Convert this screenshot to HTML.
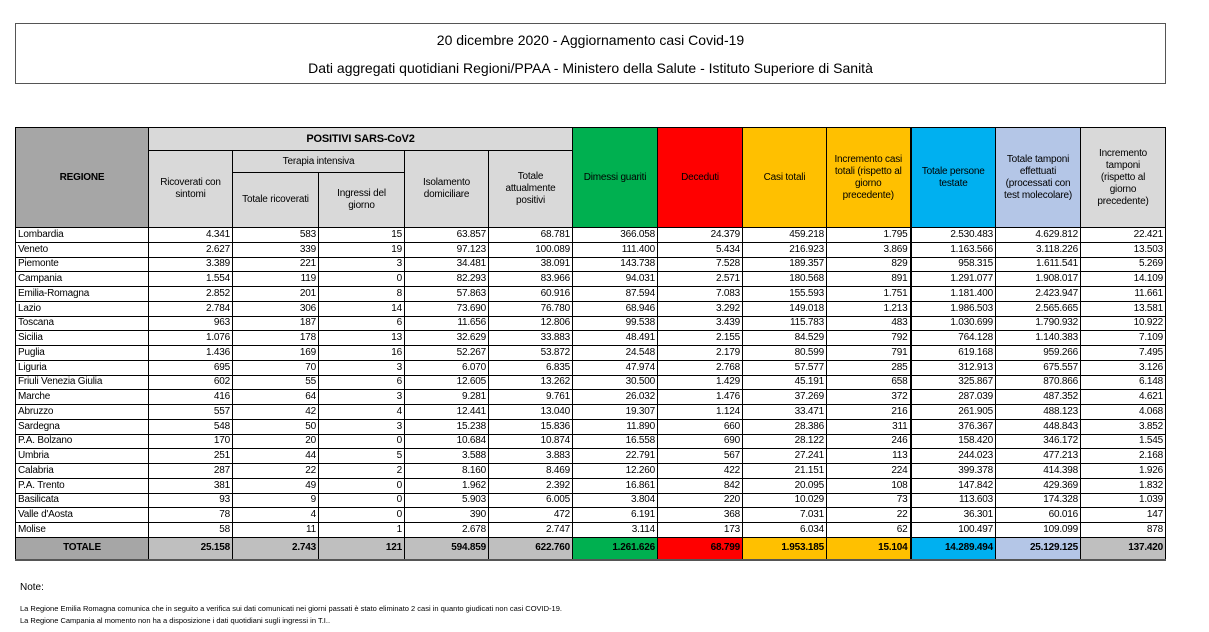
<!DOCTYPE html>
<html><head><meta charset="utf-8"><style>
body{margin:0;width:1209px;height:632px;background:#fff;font-family:"Liberation Sans",sans-serif;position:relative;overflow:hidden}
.title{position:absolute;left:15px;top:23px;width:1149px;height:59px;border:1px solid #555;text-align:center;font-size:14px;color:#000}
.title div{position:absolute;left:0;right:0}
table{position:absolute;left:15px;top:127px;border-collapse:collapse;table-layout:fixed;font-size:10px;letter-spacing:-0.2px}
td{border:1px solid #000;padding:0 2px;height:13.76px;line-height:12px;text-align:right;white-space:nowrap;overflow:hidden}
td.l{text-align:left}
th{border:1px solid #000;font-weight:normal;font-size:10px;background:#d9d9d9;line-height:12px;padding:0 2px}
.tb{border-right:2px solid #000}
tr.tot td{background:#bfbfbf;font-weight:bold;height:21px;border-bottom:2px solid #555}
.note{position:absolute;left:20px;font-size:7.5px;color:#000}
</style></head><body>
<div class="title"><div style="top:8px">20 dicembre 2020 - Aggiornamento casi Covid-19</div><div style="top:36px">Dati aggregati quotidiani Regioni/PPAA - Ministero della Salute - Istituto Superiore di Sanità</div></div>
<table>
<colgroup><col style="width:133px"><col style="width:84px"><col style="width:86px"><col style="width:86px"><col style="width:84px"><col style="width:84px"><col style="width:85px"><col style="width:85px"><col style="width:84px"><col style="width:84px"><col style="width:85px"><col style="width:85px"><col style="width:85px"></colgroup>
<tr style="height:23px"><th rowspan="3" style="background:#a6a6a6;font-weight:bold">REGIONE</th><th colspan="5" style="font-weight:bold;font-size:11px">POSITIVI SARS-CoV2</th>
<th rowspan="3" style="background:#00b050">Dimessi guariti</th><th rowspan="3" style="background:#ff0000">Deceduti</th><th rowspan="3" style="background:#ffc000">Casi totali</th><th rowspan="3" class="tb" style="background:#ffc000">Incremento casi totali (rispetto al giorno precedente)</th><th rowspan="3" style="background:#00b0f0">Totale persone testate</th><th rowspan="3" style="background:#b4c6e7">Totale tamponi effettuati (processati con test molecolare)</th><th rowspan="3" style="padding:0 8px">Incremento tamponi (rispetto al giorno precedente)</th></tr>
<tr style="height:22px"><th rowspan="2">Ricoverati con sintomi</th><th colspan="2">Terapia intensiva</th><th rowspan="2">Isolamento domiciliare</th><th rowspan="2" style="padding:0 12px">Totale attualmente positivi</th></tr>
<tr style="height:55px"><th>Totale ricoverati</th><th style="padding:0 18px">Ingressi del giorno</th></tr>
<tr><td class="l">Lombardia</td><td>4.341</td><td>583</td><td>15</td><td>63.857</td><td>68.781</td><td>366.058</td><td>24.379</td><td>459.218</td><td class="tb">1.795</td><td>2.530.483</td><td>4.629.812</td><td>22.421</td></tr>
<tr><td class="l">Veneto</td><td>2.627</td><td>339</td><td>19</td><td>97.123</td><td>100.089</td><td>111.400</td><td>5.434</td><td>216.923</td><td class="tb">3.869</td><td>1.163.566</td><td>3.118.226</td><td>13.503</td></tr>
<tr><td class="l">Piemonte</td><td>3.389</td><td>221</td><td>3</td><td>34.481</td><td>38.091</td><td>143.738</td><td>7.528</td><td>189.357</td><td class="tb">829</td><td>958.315</td><td>1.611.541</td><td>5.269</td></tr>
<tr><td class="l">Campania</td><td>1.554</td><td>119</td><td>0</td><td>82.293</td><td>83.966</td><td>94.031</td><td>2.571</td><td>180.568</td><td class="tb">891</td><td>1.291.077</td><td>1.908.017</td><td>14.109</td></tr>
<tr><td class="l">Emilia-Romagna</td><td>2.852</td><td>201</td><td>8</td><td>57.863</td><td>60.916</td><td>87.594</td><td>7.083</td><td>155.593</td><td class="tb">1.751</td><td>1.181.400</td><td>2.423.947</td><td>11.661</td></tr>
<tr><td class="l">Lazio</td><td>2.784</td><td>306</td><td>14</td><td>73.690</td><td>76.780</td><td>68.946</td><td>3.292</td><td>149.018</td><td class="tb">1.213</td><td>1.986.503</td><td>2.565.665</td><td>13.581</td></tr>
<tr><td class="l">Toscana</td><td>963</td><td>187</td><td>6</td><td>11.656</td><td>12.806</td><td>99.538</td><td>3.439</td><td>115.783</td><td class="tb">483</td><td>1.030.699</td><td>1.790.932</td><td>10.922</td></tr>
<tr><td class="l">Sicilia</td><td>1.076</td><td>178</td><td>13</td><td>32.629</td><td>33.883</td><td>48.491</td><td>2.155</td><td>84.529</td><td class="tb">792</td><td>764.128</td><td>1.140.383</td><td>7.109</td></tr>
<tr><td class="l">Puglia</td><td>1.436</td><td>169</td><td>16</td><td>52.267</td><td>53.872</td><td>24.548</td><td>2.179</td><td>80.599</td><td class="tb">791</td><td>619.168</td><td>959.266</td><td>7.495</td></tr>
<tr><td class="l">Liguria</td><td>695</td><td>70</td><td>3</td><td>6.070</td><td>6.835</td><td>47.974</td><td>2.768</td><td>57.577</td><td class="tb">285</td><td>312.913</td><td>675.557</td><td>3.126</td></tr>
<tr><td class="l">Friuli Venezia Giulia</td><td>602</td><td>55</td><td>6</td><td>12.605</td><td>13.262</td><td>30.500</td><td>1.429</td><td>45.191</td><td class="tb">658</td><td>325.867</td><td>870.866</td><td>6.148</td></tr>
<tr><td class="l">Marche</td><td>416</td><td>64</td><td>3</td><td>9.281</td><td>9.761</td><td>26.032</td><td>1.476</td><td>37.269</td><td class="tb">372</td><td>287.039</td><td>487.352</td><td>4.621</td></tr>
<tr><td class="l">Abruzzo</td><td>557</td><td>42</td><td>4</td><td>12.441</td><td>13.040</td><td>19.307</td><td>1.124</td><td>33.471</td><td class="tb">216</td><td>261.905</td><td>488.123</td><td>4.068</td></tr>
<tr><td class="l">Sardegna</td><td>548</td><td>50</td><td>3</td><td>15.238</td><td>15.836</td><td>11.890</td><td>660</td><td>28.386</td><td class="tb">311</td><td>376.367</td><td>448.843</td><td>3.852</td></tr>
<tr><td class="l">P.A. Bolzano</td><td>170</td><td>20</td><td>0</td><td>10.684</td><td>10.874</td><td>16.558</td><td>690</td><td>28.122</td><td class="tb">246</td><td>158.420</td><td>346.172</td><td>1.545</td></tr>
<tr><td class="l">Umbria</td><td>251</td><td>44</td><td>5</td><td>3.588</td><td>3.883</td><td>22.791</td><td>567</td><td>27.241</td><td class="tb">113</td><td>244.023</td><td>477.213</td><td>2.168</td></tr>
<tr><td class="l">Calabria</td><td>287</td><td>22</td><td>2</td><td>8.160</td><td>8.469</td><td>12.260</td><td>422</td><td>21.151</td><td class="tb">224</td><td>399.378</td><td>414.398</td><td>1.926</td></tr>
<tr><td class="l">P.A. Trento</td><td>381</td><td>49</td><td>0</td><td>1.962</td><td>2.392</td><td>16.861</td><td>842</td><td>20.095</td><td class="tb">108</td><td>147.842</td><td>429.369</td><td>1.832</td></tr>
<tr><td class="l">Basilicata</td><td>93</td><td>9</td><td>0</td><td>5.903</td><td>6.005</td><td>3.804</td><td>220</td><td>10.029</td><td class="tb">73</td><td>113.603</td><td>174.328</td><td>1.039</td></tr>
<tr><td class="l">Valle d'Aosta</td><td>78</td><td>4</td><td>0</td><td>390</td><td>472</td><td>6.191</td><td>368</td><td>7.031</td><td class="tb">22</td><td>36.301</td><td>60.016</td><td>147</td></tr>
<tr><td class="l">Molise</td><td>58</td><td>11</td><td>1</td><td>2.678</td><td>2.747</td><td>3.114</td><td>173</td><td>6.034</td><td class="tb">62</td><td>100.497</td><td>109.099</td><td>878</td></tr>
<tr class="tot"><td style="text-align:center;background:#a6a6a6">TOTALE</td><td>25.158</td><td>2.743</td><td>121</td><td>594.859</td><td>622.760</td><td style="background:#00b050">1.261.626</td><td style="background:#ff0000">68.799</td><td style="background:#ffc000">1.953.185</td><td class="tb" style="background:#ffc000">15.104</td><td style="background:#00b0f0">14.289.494</td><td style="background:#b4c6e7">25.129.125</td><td>137.420</td></tr>
</table>
<div class="note" style="top:582px;font-size:10px">Note:</div>
<div class="note" style="top:604px">La Regione Emilia Romagna comunica che in seguito a verifica sui dati comunicati nei giorni passati è stato eliminato 2 casi in quanto giudicati non casi COVID-19.</div>
<div class="note" style="top:616px">La Regione Campania al momento non ha a disposizione i dati quotidiani sugli ingressi in T.I..</div>
</body></html>
